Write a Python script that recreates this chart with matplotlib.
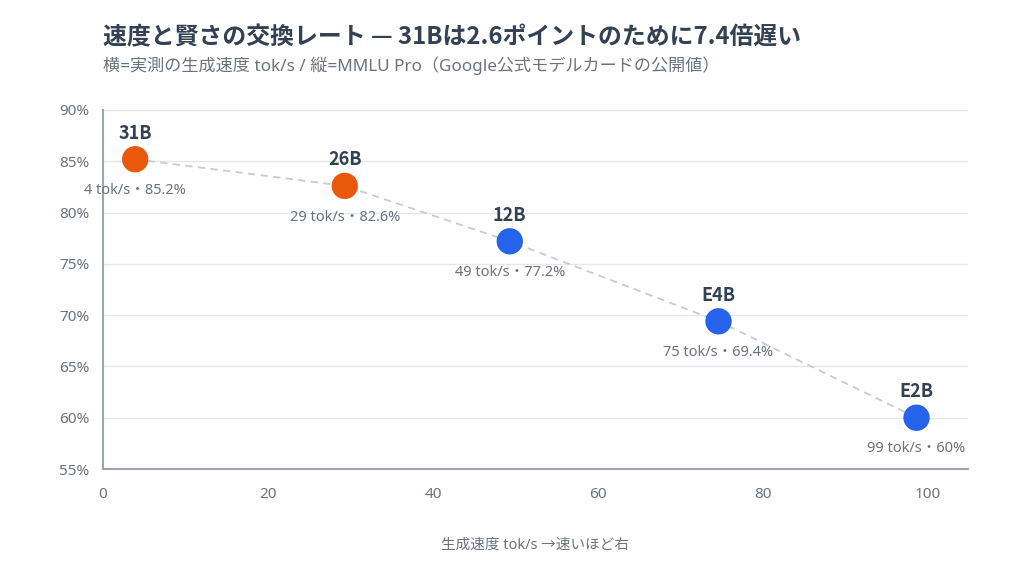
import matplotlib
matplotlib.use('Agg')
from matplotlib import pyplot as plt
from matplotlib.ticker import FuncFormatter

plt.rcParams['font.family'] = ['Noto Sans', 'Noto Sans CJK JP', 'DejaVu Sans']
bold_family = ['Noto Sans CJK JP', 'DejaVu Sans']

# data
models = ['31B', '26B', '12B', 'E4B', 'E2B']
speeds = [3.9, 29.3, 49.3, 74.6, 98.6]        # tok/s
scores = [85.2, 82.6, 77.2, 69.4, 60.0]       # MMLU Pro %
colors = ['#EA580C', '#EA580C', '#2563EB', '#2563EB', '#2563EB']

title = '速度と賢さの交換レート — 31Bは2.6ポイントのために7.4倍遅い'
subtitle = '横=実測の生成速度 tok/s / 縦=MMLU Pro（Google公式モデルカードの公開値）'
xlabel = '生成速度 tok/s →速いほど右'

dark = '#334155'
gray = '#6B7280'

fig = plt.figure(figsize=(10.24, 5.69), dpi=100)
ax = fig.add_axes([0.1006, 0.1757, 0.8444, 0.631])

ax.plot(speeds, scores, linestyle=(0, (4, 3)), color='#C9CBD3', lw=1.3, zorder=1)
ax.scatter(speeds, scores, s=360, c=colors, zorder=3, edgecolors='none')

for name, s, v in zip(models, speeds, scores):
    ax.annotate(name, (s, v), xytext=(0, 12), textcoords='offset points',
                ha='center', va='bottom', fontsize=13, fontweight='bold',
                color=dark, family=bold_family)
    ax.annotate(f'{round(s)} tok/s・{v:g}%', (s, v), xytext=(0, -17),
                textcoords='offset points', ha='center', va='top',
                fontsize=10.5, color=gray)

ax.set_xlim(0, 104.8)
ax.set_ylim(55, 90)
ax.set_xticks([0, 20, 40, 60, 80, 100])
ax.set_yticks(range(55, 91, 5))
ax.yaxis.set_major_formatter(FuncFormatter(lambda v, p: f'{v:.0f}%'))
ax.tick_params(length=0, labelsize=11, colors=gray)
ax.tick_params(axis='x', pad=13)
ax.tick_params(axis='y', pad=10)
ax.grid(axis='y', color='#E5E7EB', lw=1)
ax.set_axisbelow(True)
for side in ['top', 'right']:
    ax.spines[side].set_visible(False)
ax.spines['left'].set_color('#9CA3AF')
ax.spines['left'].set_linewidth(1.5)
ax.spines['bottom'].set_color('#9CA3AF')
ax.spines['bottom'].set_linewidth(1.5)
ax.set_xlabel(xlabel, fontsize=10.5, color=gray, labelpad=26)

fig.text(0.1006, 0.935, title, fontsize=17.2, fontweight='bold', color=dark,
         ha='left', va='center', family=bold_family)
fig.text(0.1006, 0.884, subtitle, fontsize=12.3, color=gray, ha='left', va='center')

fig.savefig('out.png', dpi=100, facecolor='white')
